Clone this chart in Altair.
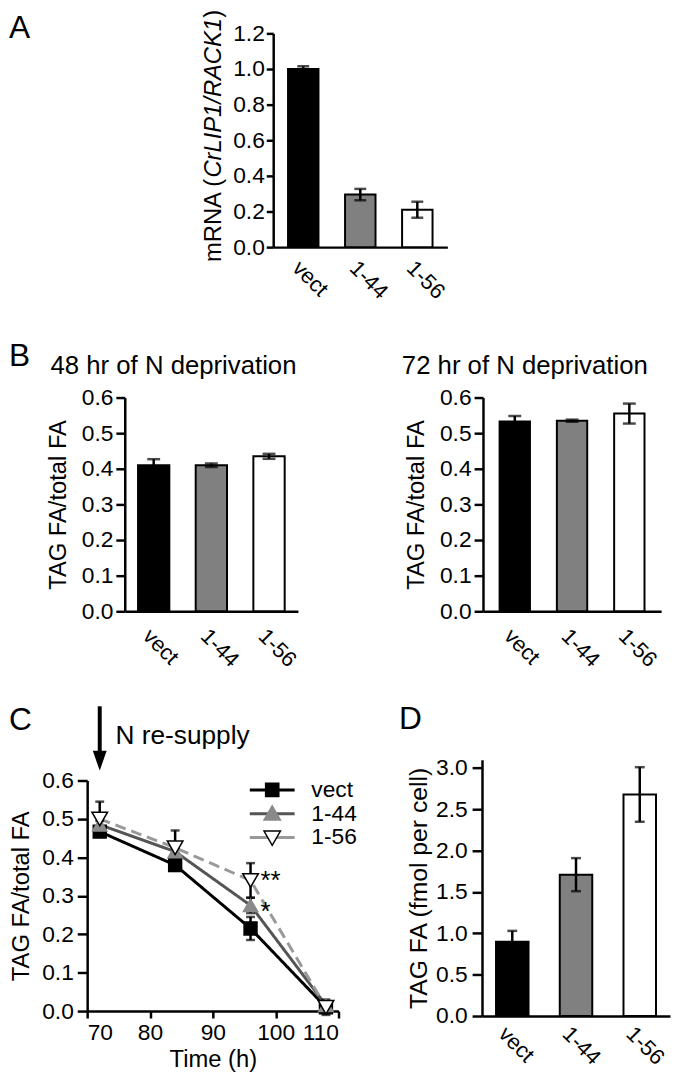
import altair as alt
import pandas as pd

FONT = "Liberation Sans"

# ---------------- data ----------------
groups = ["vect", "1-44", "1-56"]
bar_colors = ["#000000", "#808080", "#ffffff"]

# Panel A: mRNA (CrLIP1/RACK1)
mrna_mean = [1.00, 0.295, 0.21]
mrna_sem = [0.015, 0.032, 0.045]
a_ticks = [0.0, 0.2, 0.4, 0.6, 0.8, 1.0, 1.2]

# Panel B: TAG FA / total FA
tag48_mean = [0.410, 0.410, 0.435]
tag48_sem = [0.017, 0.005, 0.007]
tag72_mean = [0.533, 0.535, 0.555]
tag72_sem = [0.015, 0.003, 0.028]
b_ticks = [0.0, 0.1, 0.2, 0.3, 0.4, 0.5, 0.6]

# Panel C: time course after N re-supply
time_h = [72, 84, 96, 108]
c_vect_mean = [0.467, 0.380, 0.215, 0.010]
c_vect_sem = [0.012, 0.015, 0.030, 0.015]
c_144_mean = [0.485, 0.415, 0.275, 0.015]
c_144_sem = [0.010, 0.010, 0.020, 0.010]
c_156_mean = [0.500, 0.425, 0.340, 0.010]
c_156_sem = [0.045, 0.045, 0.045, 0.020]
c_xticks = [70, 80, 90, 100, 110]
c_yticks = [0.0, 0.1, 0.2, 0.3, 0.4, 0.5, 0.6]
resupply_time = [72]
star_series = ["1-56", "1-44"]
star_text = ["**", "*"]

# Panel D: TAG FA (fmol per cell)
fmol_mean = [0.90, 1.71, 2.68]
fmol_sem = [0.13, 0.20, 0.33]
d_ticks = [0.0, 0.5, 1.0, 1.5, 2.0, 2.5, 3.0]

line_colors = ["#000000", "#555555", "#999999"]
marker_fill = ["#000000", "#8a8a8a", "#ffffff"]
marker_stroke = ["#000000", "#8a8a8a", "#000000"]

one = pd.DataFrame({"a": [0]})


def anchor(px, py):
    # invisible point that fixes the layout bounds of a row
    return alt.Chart(one).mark_point(opacity=0, size=0.01).encode(
        x=alt.value(px), y=alt.value(py))


def letter(ch, lx, ly):
    return alt.Chart(one).mark_text(text=ch, fontSize=32, align="left",
                                    baseline="top").encode(
        x=alt.value(lx), y=alt.value(ly))


def bar_panel(mean, sem, ydom, yticks, ytitle, pin, pout, tick_size, label_pad_y,
              title_pad, cap, label_pad, title_size=24, label_off=0):
    df = pd.DataFrame({
        "group": groups,
        "mean": mean,
        "lo": [m - s for m, s in zip(mean, sem)],
        "hi": [m + s for m, s in zip(mean, sem)],
    })
    xsc = alt.Scale(domain=groups, paddingInner=pin, paddingOuter=pout)
    ysc = alt.Scale(domain=ydom, nice=False, zero=True)
    xax = alt.Axis(title="", ticks=False, labelAngle=45, labelAlign="left",
                   labelBaseline="top", labelPadding=label_pad, labelFontSize=22,
                   labelOffset=label_off)
    yax = alt.Axis(values=yticks, format=".1f", title=ytitle,
                   titlePadding=title_pad, tickSize=tick_size,
                   labelPadding=label_pad_y, labelFontSize=23,
                   titleFontSize=title_size)
    bars = alt.Chart(df).mark_bar(stroke="black", strokeWidth=2).encode(
        x=alt.X("group:N", sort=groups, scale=xsc, axis=xax),
        y=alt.Y("mean:Q", scale=ysc, axis=yax),
        fill=alt.Fill("group:N", scale=alt.Scale(domain=groups, range=bar_colors),
                      legend=None),
    )
    err = alt.Chart(df).mark_errorbar(ticks=True, size=cap, thickness=2.5,
                                      color="black").encode(
        x=alt.X("group:N", sort=groups, scale=xsc, axis=xax),
        y=alt.Y("lo:Q", scale=ysc, axis=yax),
        y2="hi:Q",
    )
    return bars, err


# ---------------- Panel A ----------------
a_bars, a_err = bar_panel(mrna_mean, mrna_sem, [0, 1.2], a_ticks, "",
                          0.466, 0.26, 7, 2, 10, 12, 10)
a_t1 = alt.Chart(one).mark_text(text="mRNA (", angle=270, align="left",
                                baseline="alphabetic", fontSize=24).encode(
    x=alt.value(-53), y=alt.value(231))
a_t2 = alt.Chart(one).mark_text(text="CrLIP1/RACK1", angle=270, align="left",
                                baseline="alphabetic", fontSize=24,
                                fontStyle="italic").encode(
    x=alt.value(-53), y=alt.value(145.7))
a_t3 = alt.Chart(one).mark_text(text=")", angle=270, align="left",
                                baseline="alphabetic", fontSize=24).encode(
    x=alt.value(-53), y=alt.value(-15.7))
chartA = alt.layer(a_bars, a_err, a_t1, a_t2, a_t3).properties(width=176, height=216)
spacerA = alt.layer(anchor(-79, -24), anchor(-79, 288),
                    letter("A", -79, -20)).properties(width=188, height=216)
rowA = alt.hconcat(spacerA, chartA, spacing=0, bounds="flush")

# ---------------- Panel B ----------------
b1_bars, b1_err = bar_panel(tag48_mean, tag48_sem, [0, 0.6], b_ticks,
                            "TAG FA/total FA", 0.457, 0.23, 9, 3, 11, 13, 14)
chartB1 = alt.layer(b1_bars, b1_err).properties(
    width=175, height=216,
    title=alt.TitleParams("48 hr of N deprivation", anchor="start", frame="group",
                          dx=-75, offset=7.5, fontSize=26))
b2_bars, b2_err = bar_panel(tag72_mean, tag72_sem, [0, 0.6], b_ticks,
                            "TAG FA/total FA", 0.47, 0.29, 9, 3, 11, 13, 14)
chartB2 = alt.layer(b2_bars, b2_err).properties(
    width=180, height=216,
    title=alt.TitleParams("72 hr of N deprivation", anchor="start", frame="group",
                          dx=-82, offset=7.5, fontSize=26))
spacerB = alt.layer(anchor(-79, -68), anchor(-79, 292),
                    letter("B", -79, -57)).properties(width=38, height=216)
rowB = alt.hconcat(spacerB,
                   alt.hconcat(chartB1, chartB2, spacing=187, bounds="flush"),
                   spacing=0, bounds="flush")

# ---------------- Panel C ----------------
rows = []
for s, means, sems in [("vect", c_vect_mean, c_vect_sem),
                       ("1-44", c_144_mean, c_144_sem),
                       ("1-56", c_156_mean, c_156_sem)]:
    for t, m, e in zip(time_h, means, sems):
        rows.append({"series": s, "time": t, "mean": m, "lo": m - e, "hi": m + e})
cdf = pd.DataFrame(rows)
mean_at = {r["series"]: r["mean"] for r in rows if r["time"] == 96}
star_df = pd.DataFrame({"series": star_series, "txt": star_text,
                        "time": [96] * len(star_series),
                        "mean": [mean_at[s] for s in star_series]})

cx = alt.Scale(domain=[70, 110], nice=False, zero=False)
cy = alt.Scale(domain=[0, 0.6], nice=False, zero=True)
c_xax = alt.Axis(values=c_xticks, format="d", title="Time (h)", tickSize=7,
                 labelPadding=4, titlePadding=3, labelAngle=0, labelFontSize=23)
c_yax = alt.Axis(values=c_yticks, format=".1f", title="TAG FA/total FA",
                 tickSize=10, labelPadding=4, titlePadding=8, labelFontSize=23)

c_lines = alt.Chart(cdf).mark_line(strokeWidth=3).encode(
    x=alt.X("time:Q", scale=cx, axis=c_xax),
    y=alt.Y("mean:Q", scale=cy, axis=c_yax),
    color=alt.Color("series:N", scale=alt.Scale(domain=groups, range=line_colors),
                    legend=None),
    strokeDash=alt.StrokeDash("series:N",
                              scale=alt.Scale(domain=groups,
                                              range=[[1, 0], [1, 0], [11, 6]]),
                              legend=None),
)
c_err = alt.Chart(cdf).mark_errorbar(ticks=True, size=9, thickness=2.5,
                                     color="black").encode(
    x=alt.X("time:Q", scale=cx, axis=c_xax),
    y=alt.Y("lo:Q", scale=cy, axis=c_yax),
    y2="hi:Q",
)
c_pts = alt.Chart(cdf).mark_point(filled=True, opacity=1, strokeWidth=1.5).encode(
    x=alt.X("time:Q", scale=cx, axis=c_xax),
    y=alt.Y("mean:Q", scale=cy, axis=c_yax),
    shape=alt.Shape("series:N", scale=alt.Scale(
        domain=groups, range=["square", "triangle-up", "triangle-down"]), legend=None),
    fill=alt.Fill("series:N", scale=alt.Scale(domain=groups, range=marker_fill),
                  legend=None),
    stroke=alt.Stroke("series:N", scale=alt.Scale(domain=groups, range=marker_stroke),
                      legend=None),
    size=alt.Size("series:O", scale=alt.Scale(domain=groups, range=[170, 250, 250]),
                  legend=None),
)
star_base = alt.Chart(star_df)
c_star_hi = star_base.transform_filter(alt.datum.series == star_series[0]).mark_text(
    align="left", baseline="middle", dx=10, dy=1, fontSize=26).encode(
    x=alt.X("time:Q", scale=cx, axis=c_xax),
    y=alt.Y("mean:Q", scale=cy, axis=c_yax),
    text="txt:N",
)
c_star_lo = star_base.transform_filter(alt.datum.series == star_series[1]).mark_text(
    align="left", baseline="middle", dx=10, dy=7, fontSize=26).encode(
    x=alt.X("time:Q", scale=cx, axis=c_xax),
    y=alt.Y("mean:Q", scale=cy, axis=c_yax),
    text="txt:N",
)

LINE_PATH = "M-3,0H3"
MARKER_PATHS = ["M-0.88,-0.88H0.88V0.88H-0.88Z",
                "M0,-1.05L1.1,0.85H-1.1Z",
                "M-1.1,-0.85H1.1L0,1.05Z"]
leg_common = dict(orient="none", legendX=175.5, legendY=-2, title=None,
                  direction="vertical", symbolSize=228, labelFontSize=23,
                  labelOffset=28, rowPadding=-2, padding=0)
leg1 = alt.Legend(symbolStrokeWidth=3, **leg_common)
leg2 = alt.Legend(symbolStrokeWidth=1.5, labelExpr="' '", **leg_common)

c_leg_lines = alt.Chart(cdf).transform_filter("false").mark_point(
    filled=False, opacity=1, strokeWidth=3).encode(
    shape=alt.Shape("series:N", scale=alt.Scale(domain=groups,
                                                range=[LINE_PATH] * 3), legend=leg1),
    stroke=alt.Stroke("series:N", scale=alt.Scale(domain=groups, range=line_colors),
                      legend=leg1),
)
c_leg_marks = alt.Chart(cdf).transform_filter("false").mark_point(
    filled=True, opacity=1, strokeWidth=1.5).encode(
    shape=alt.Shape("series:N", scale=alt.Scale(domain=groups, range=MARKER_PATHS),
                    legend=leg2),
    fill=alt.Fill("series:N", scale=alt.Scale(domain=groups, range=marker_fill),
                  legend=leg2),
    stroke=alt.Stroke("series:N", scale=alt.Scale(domain=groups, range=marker_stroke),
                      legend=leg2),
)

adf = pd.DataFrame({"t": resupply_time})
c_shaft = alt.Chart(adf).mark_rule(strokeWidth=4, color="black").encode(
    x=alt.X("t:Q", scale=cx, axis=c_xax), y=alt.value(-75), y2=alt.value(-24))
c_head = alt.Chart(adf).mark_point(shape="M-0.7,-1L0.7,-1L0,1Z", size=400,
                                   filled=True, color="black", opacity=1).encode(
    x=alt.X("t:Q", scale=cx, axis=c_xax), y=alt.value(-20))
c_note = alt.Chart(adf).mark_text(text="N re-supply", align="left",
                                  baseline="alphabetic", dx=16, fontSize=26.5).encode(
    x=alt.X("t:Q", scale=cx, axis=c_xax), y=alt.value(-37))

chartC = alt.layer(c_lines, c_err, c_pts, c_star_hi, c_star_lo, c_leg_lines,
                   c_leg_marks, c_shaft, c_head, c_note).resolve_scale(
    shape="independent", fill="independent", stroke="independent"
).properties(width=254, height=233)
spacerC = alt.layer(anchor(-79, -62), anchor(290, -62),
                    letter("C", -79, -55)).properties(width=254, height=21)
colC = alt.vconcat(spacerC, chartC, spacing=0, bounds="flush")

# ---------------- Panel D ----------------
d_bars, d_err = bar_panel(fmol_mean, fmol_sem, [0, 3.1], d_ticks,
                          "TAG FA (fmol per cell)", 0.49, 0.22, 10, 5, 4, 10, 7,
                          title_size=25, label_off=-3)
chartD = alt.layer(d_bars, d_err, anchor(-90, -62),
                   letter("D", -84, -56)).properties(width=190, height=259)

rowC = alt.hconcat(colC, chartD, spacing=17)

# ---------------- layout ----------------
chart = alt.vconcat(rowA, rowB, rowC, spacing=10).properties(
    padding={"top": -5, "left": 0, "right": 2, "bottom": 4})

chart = chart.configure_view(stroke=None).configure_axis(
    labelFont=FONT, titleFont=FONT, labelColor="black", titleColor="black",
    domainColor="black", tickColor="black", domainWidth=2.5, tickWidth=2.5,
    grid=False, titleFontWeight="normal", labelFontSize=22, titleFontSize=24,
).configure_text(font=FONT, color="black").configure_title(
    font=FONT, fontWeight="normal", color="black"
).configure_legend(labelFont=FONT, labelColor="black")

chart.save("out.html", embed_options={"renderer": "svg", "actions": False})
